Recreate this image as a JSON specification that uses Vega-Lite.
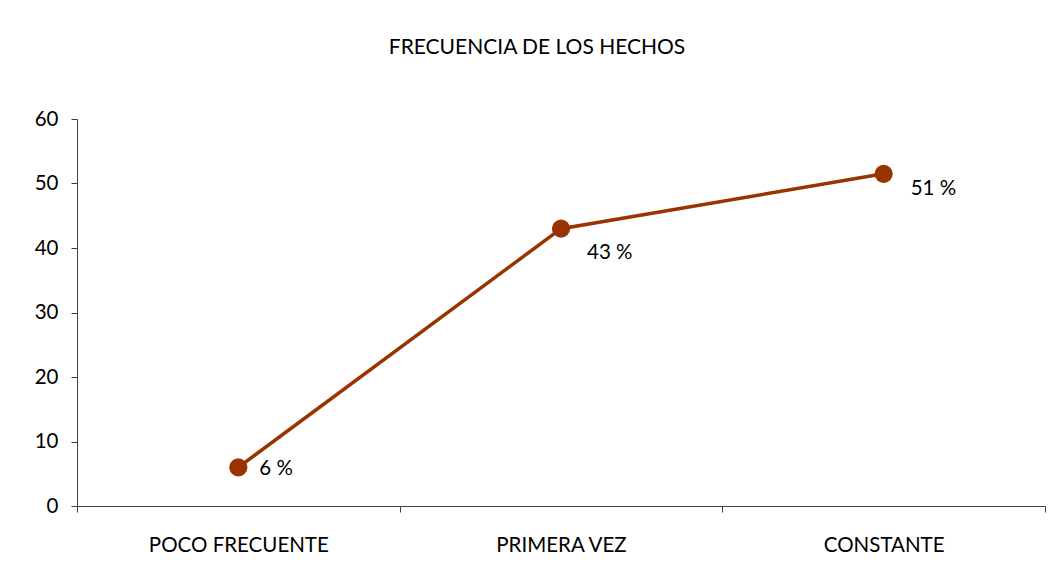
{
  "$schema": "https://vega.github.io/schema/vega-lite/v6.json",
  "width": 968,
  "height": 387,
  "autosize": "none",
  "padding": {"left": 77, "top": 119, "right": 8, "bottom": 73},
  "background": "white",
  "title": {
    "text": "FRECUENCIA DE LOS HECHOS",
    "font": "Lato",
    "fontSize": 21,
    "fontWeight": "normal",
    "color": "#000000",
    "anchor": "middle",
    "dx": -24,
    "offset": 51
  },
  "data": {
    "values": [
      {"categoria": "POCO FRECUENTE", "valor": 6, "etiqueta": "6 %"},
      {"categoria": "PRIMERA VEZ", "valor": 43, "etiqueta": "43 %"},
      {"categoria": "CONSTANTE", "valor": 51.5, "etiqueta": "51 %"}
    ]
  },
  "encoding": {
    "x": {
      "field": "categoria",
      "type": "nominal",
      "sort": null,
      "title": null,
      "scale": {"paddingInner": 0, "paddingOuter": 0},
      "axis": {
        "labelAngle": 0,
        "tickBand": "extent",
        "labelFont": "Lato",
        "labelFontSize": 20.5,
        "labelColor": "#000000",
        "labelPadding": 23,
        "tickSize": 6,
        "tickColor": "#404040",
        "domainColor": "#404040",
        "grid": false
      }
    },
    "y": {
      "field": "valor",
      "type": "quantitative",
      "title": null,
      "scale": {"domain": [0, 60]},
      "axis": {
        "values": [0, 10, 20, 30, 40, 50, 60],
        "labelFont": "Lato",
        "labelFontSize": 20.5,
        "labelColor": "#000000",
        "labelPadding": 13,
        "tickSize": 6,
        "tickColor": "#404040",
        "domainColor": "#404040",
        "grid": false
      }
    }
  },
  "layer": [
    {"mark": {"type": "line", "color": "#993300", "strokeWidth": 3.5}},
    {"mark": {"type": "point", "shape": "circle", "filled": true, "opacity": 1, "color": "#993300", "size": 330}},
    {
      "transform": [{"filter": "datum.valor == 6"}],
      "mark": {"type": "text", "align": "left", "baseline": "middle", "dx": 21, "dy": 2, "font": "Lato", "fontSize": 20.5, "color": "#000000"},
      "encoding": {"text": {"field": "etiqueta"}}
    },
    {
      "transform": [{"filter": "datum.valor == 43"}],
      "mark": {"type": "text", "align": "left", "baseline": "middle", "dx": 26, "dy": 24, "font": "Lato", "fontSize": 20.5, "color": "#000000"},
      "encoding": {"text": {"field": "etiqueta"}}
    },
    {
      "transform": [{"filter": "datum.valor == 51.5"}],
      "mark": {"type": "text", "align": "left", "baseline": "middle", "dx": 27, "dy": 15, "font": "Lato", "fontSize": 20.5, "color": "#000000"},
      "encoding": {"text": {"field": "etiqueta"}}
    }
  ],
  "config": {"view": {"stroke": null}}
}
